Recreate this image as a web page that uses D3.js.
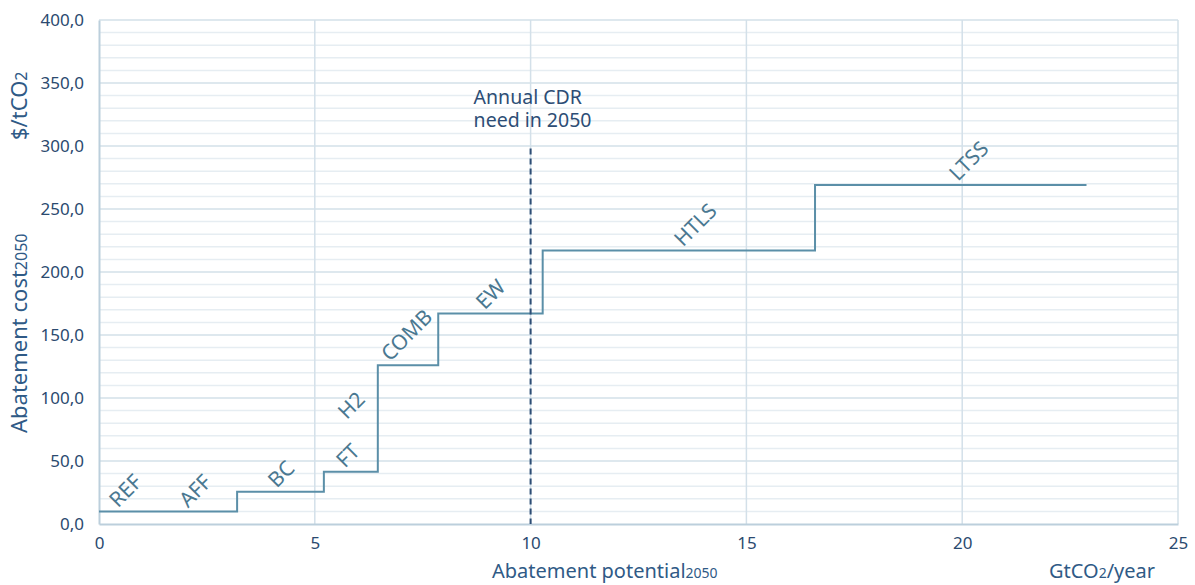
<!DOCTYPE html>
<html><head><meta charset="utf-8">
<script src="https://cdn.jsdelivr.net/npm/d3@7"></script>
<style>
body{margin:0;background:#fff;}
svg{font-family:"Noto Sans","Open Sans",sans-serif;}
</style></head>
<body><svg id="c" width="1195" height="585"></svg>
<script>
// ---- data ----
const technologies = ["REF","AFF","BC","FT","H2","COMB","EW","HTLS","LTSS"];
const potentials   = [1.5, 1.7, 2.01, 1.25, 0, 1.4, 2.42, 6.31, 6.29];   // GtCO2/year (segment widths)
const costs        = [10, 10, 25.6, 41.5, 80, 126, 167, 217, 269];       // $/tCO2
const labelStarts  = [0.44, 2.06, 4.12, 5.7, 5.74, 6.74, 8.94, 13.53, 19.9]; // GtCO2/year
const xTicks = [0, 5, 10, 15, 20, 25];
const yTicks = [0, 50, 100, 150, 200, 250, 300, 350, 400];
const yMinorTicks = d3.range(0, 401, 10);
const cdrNeed = 10;       // GtCO2/year
const cdrLineTop = 298;   // $/tCO2 extent of dashed marker

// ---- layout ----
const svg = d3.select("#c");
const m = {l:99, r:1178, t:20, b:524};
const x = d3.scaleLinear().domain([0,25]).range([m.l, m.r]);
const y = d3.scaleLinear().domain([0,400]).range([m.b, m.t]);

// minor gridlines
svg.append("g").selectAll("line").data(yMinorTicks.filter(v=>v%50!==0)).join("line")
  .attr("x1",m.l).attr("x2",m.r).attr("y1",d=>y(d)).attr("y2",d=>y(d))
  .attr("stroke","#e6edf2").attr("stroke-width",1.5);
// major gridlines
svg.append("g").selectAll("line").data(yTicks.filter(v=>v>0)).join("line")
  .attr("x1",m.l).attr("x2",m.r).attr("y1",d=>y(d)).attr("y2",d=>y(d))
  .attr("stroke","#d3e0e9").attr("stroke-width",1.5);
svg.append("g").selectAll("line").data(xTicks.filter(v=>v>0)).join("line")
  .attr("y1",m.t).attr("y2",m.b).attr("x1",d=>x(d)).attr("x2",d=>x(d))
  .attr("stroke","#d3e0e9").attr("stroke-width",1.5);

// axes
const fmt = v => d3.format(".1f")(v).replace(".", ",");
const yAxis = svg.append("g").attr("transform",`translate(${m.l},0)`)
  .call(d3.axisLeft(y).tickValues(yTicks).tickFormat(fmt).tickSize(0).tickPadding(15));
const xAxis = svg.append("g").attr("transform",`translate(0,${m.b})`)
  .call(d3.axisBottom(x).tickValues(xTicks).tickFormat(d3.format("d")).tickSize(0).tickPadding(13));
[yAxis,xAxis].forEach(a=>{
  a.select(".domain").attr("stroke","#bccfdc").attr("stroke-width",2);
  a.selectAll("text").attr("fill","#2b4a6f").attr("font-size",17).attr("font-family","'Noto Sans',sans-serif");
});

// step line
let cum = 0;
const segs = technologies.map((t,i)=>{const s={name:t,x0:cum,x1:cum+potentials[i],c:costs[i],lx:labelStarts[i]};cum+=potentials[i];return s;});
const pts = [];
segs.forEach(s=>{ if(s.x1>s.x0){pts.push([s.x0,s.c]);pts.push([s.x1,s.c]);} });
svg.append("path").datum(pts)
  .attr("d", d3.line().x(d=>x(d[0])).y(d=>y(d[1])))
  .attr("fill","none").attr("stroke","#5b8fa8").attr("stroke-width",2);

// labels
svg.append("g").selectAll("text").data(segs).join("text")
  .attr("transform",d=>`translate(${x(d.lx)},${y(d.c)-3}) rotate(-45)`)
  .attr("fill","#4a7891").attr("font-size",21).text(d=>d.name);

// CDR marker
svg.append("line").attr("x1",x(cdrNeed)).attr("x2",x(cdrNeed)).attr("y1",y(cdrLineTop)).attr("y2",y(0))
  .attr("stroke","#2d4d75").attr("stroke-width",2).attr("stroke-dasharray","6,4");
const ann = svg.append("text").attr("fill","#2d4d75").attr("font-size",19.5);
ann.append("tspan").attr("x",x(cdrNeed)-57).attr("y",104).text("Annual CDR");
ann.append("tspan").attr("x",x(cdrNeed)-57).attr("y",127).text("need in 2050");

// axis titles
const xt = svg.append("text").attr("x",492).attr("y",578).attr("fill","#2f5a86").attr("font-size",20);
xt.append("tspan").text("Abatement potential");
xt.append("tspan").attr("font-size",14).text("2050");
const xu = svg.append("text").attr("x",1049).attr("y",578).attr("fill","#2f5a86").attr("font-size",20);
xu.append("tspan").text("GtCO");
xu.append("tspan").attr("font-size",14).text("2");
xu.append("tspan").text("/year");

const yt = svg.append("text").attr("transform","translate(27,433) rotate(-90)").attr("fill","#2f5a86").attr("font-size",22);
yt.append("tspan").text("Abatement cost");
yt.append("tspan").attr("font-size",16).text("2050");
const yu = svg.append("text").attr("transform","translate(27,140) rotate(-90)").attr("fill","#2f5a86").attr("font-size",22);
yu.append("tspan").text("$/tCO");
yu.append("tspan").attr("font-size",16).text("2");
</script></body></html>
